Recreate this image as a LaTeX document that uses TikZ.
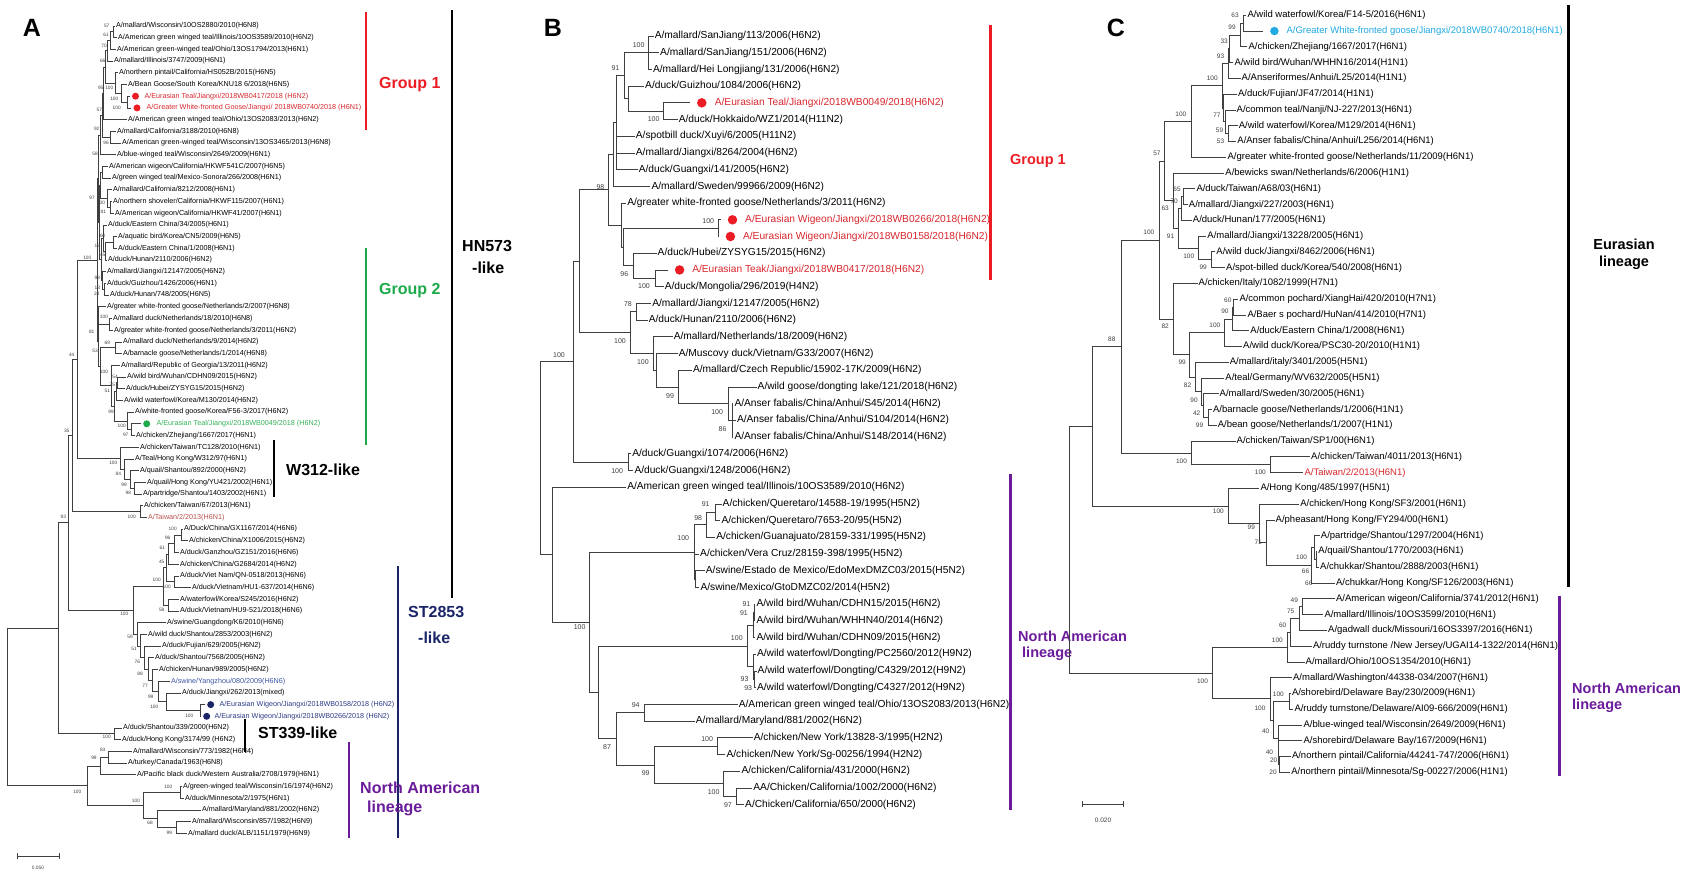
\documentclass[tikz,border=0pt]{standalone}
\usepackage{fontspec}
\setmainfont{Liberation Sans}
\usepackage{xcolor}
\usetikzlibrary{calc,positioning}
\definecolor{treegray}{HTML}{3F3F3F}
\definecolor{grpred}{HTML}{EC1C24}
\definecolor{leafred}{HTML}{D8262C}
\definecolor{twred}{HTML}{B8504A}
\definecolor{grpgreen}{HTML}{1DAA4A}
\definecolor{leafgreen}{HTML}{33B157}
\definecolor{navy}{HTML}{1B2466}
\definecolor{leafnavy}{HTML}{2B3A85}
\definecolor{swblue}{HTML}{3B56A3}
\definecolor{napurple}{HTML}{6A1B9A}
\definecolor{gwcyan}{HTML}{21A9E1}
% internal node: x position, placed half way between first and last child
\newcommand{\inode}[4]{%
  \coordinate (tmp) at ($(#3)!0.5!(#4)$);
  \coordinate (#1) at (#2,0 |- tmp);}
\begin{document}
\begin{tikzpicture}[x=1pt,y=-1pt]
\tikzset{
  leafA/.style={anchor=west,inner sep=0.8pt,font=\fontsize{7.2}{8}\selectfont},
  leafB/.style={anchor=west,inner sep=1pt,font=\fontsize{10.2}{11}\selectfont},
  leafC/.style={anchor=west,inner sep=1pt,font=\fontsize{9.5}{10}\selectfont},
  bsA/.style={inner sep=0pt,text=treegray,font=\fontsize{4.8}{5}\selectfont},
  bsB/.style={inner sep=0pt,text=treegray,font=\fontsize{7}{7}\selectfont},
  bsC/.style={inner sep=0pt,text=treegray,font=\fontsize{6.5}{7}\selectfont},
  dotA/.style={circle,inner sep=0pt,minimum size=7pt,outer sep=2.5pt},
  dotB/.style={circle,inner sep=0pt,minimum size=9.5pt,outer sep=7pt},
  dotC/.style={circle,inner sep=0pt,minimum size=8.5pt,outer sep=7pt},
  branch/.style={draw=treegray,line width=0.75pt},
  cladebar/.style={line width=2.6pt},
  cladetext/.style={anchor=west,inner sep=0pt,font=\bfseries\fontsize{16}{18}\selectfont},
  cladetextB/.style={anchor=west,inner sep=0pt,font=\bfseries\fontsize{14.5}{16}\selectfont},
  panel/.style={inner sep=0pt,font=\bfseries\fontsize{25}{26}\selectfont},
}
\useasboundingbox (0,0) rectangle (1687,873);

%% ---------------- panel A ----------------
\node[panel] (pA) at (32,28) {A};
\node[leafA] (a1) at (115,26) {A/mallard/Wisconsin/10OS2880/2010(H6N8)};
\node[leafA] (a2) at (117,37.7) {A/American green winged teal/Illinois/10OS3589/2010(H6N2)};
\node[leafA] (a3) at (116,49.4) {A/American green-winged teal/Ohio/13OS1794/2013(H6N1)};
\node[leafA] (a4) at (113,61.1) {A/mallard/Illinois/3747/2009(H6N1)};
\node[leafA] (a5) at (118,72.8) {A/northern pintail/California/HS052B/2015(H6N5)};
\node[leafA] (a6) at (127,84.5) {A/Bean Goose/South Korea/KNU18 6/2018(H6N5)};
\node[dotA,fill=grpred] (a7) at (135.5,96.2) {};
\node[leafA,text=leafred] (a7t) at (143.5,96.2) {A/Eurasian Teal/Jiangxi/2018WB0417/2018 (H6N2)};
\node[dotA,fill=grpred] (a8) at (137,107.9) {};
\node[leafA,text=leafred] (a8t) at (145.5,107.9) {A/Greater White-fronted Goose/Jiangxi/ 2018WB0740/2018 (H6N1)};
\node[leafA] (a9) at (127,119.6) {A/American green winged teal/Ohio/13OS2083/2013(H6N2)};
\node[leafA] (a10) at (116,131.3) {A/mallard/California/3188/2010(H6N8)};
\node[leafA] (a11) at (121,143) {A/American green-winged teal/Wisconsin/13OS3465/2013(H6N8)};
\node[leafA] (a12) at (116,154.7) {A/blue-winged teal/Wisconsin/2649/2009(H6N1)};
\node[leafA] (a13) at (108,166.4) {A/American wigeon/California/HKWF541C/2007(H6N5)};
\node[leafA] (a14) at (111,178.1) {A/green winged teal/Mexico-Sonora/266/2008(H6N1)};
\node[leafA] (a15) at (112,189.8) {A/mallard/California/8212/2008(H6N1)};
\node[leafA] (a16) at (112,201.5) {A/northern shoveler/California/HKWF115/2007(H6N1)};
\node[leafA] (a17) at (114,213.2) {A/American wigeon/California/HKWF41/2007(H6N1)};
\node[leafA] (a18) at (107,224.9) {A/duck/Eastern China/34/2005(H6N1)};
\node[leafA] (a19) at (117,236.6) {A/aquatic bird/Korea/CN5/2009(H6N5)};
\node[leafA] (a20) at (117,248.3) {A/duck/Eastern China/1/2008(H6N1)};
\node[leafA] (a21) at (107,260) {A/duck/Hunan/2110/2006(H6N2)};
\node[leafA] (a22) at (106,271.7) {A/mallard/Jiangxi/12147/2005(H6N2)};
\node[leafA] (a23) at (106,283.4) {A/duck/Guizhou/1426/2006(H6N1)};
\node[leafA] (a24) at (109,295.1) {A/duck/Hunan/748/2005(H6N5)};
\node[leafA] (a25) at (106,306.8) {A/greater white-fronted goose/Netherlands/2/2007(H6N8)};
\node[leafA] (a26) at (112,318.5) {A/mallard duck/Netherlands/18/2010(H6N8)};
\node[leafA] (a27) at (113,330.2) {A/greater white-fronted goose/Netherlands/3/2011(H6N2)};
\node[leafA] (a28) at (122,341.9) {A/mallard duck/Netherlands/9/2014(H6N2)};
\node[leafA] (a29) at (122,353.6) {A/barnacle goose/Netherlands/1/2014(H6N8)};
\node[leafA] (a30) at (120,365.3) {A/mallard/Republic of Georgia/13/2011(H6N2)};
\node[leafA] (a31) at (126,377) {A/wild bird/Wuhan/CDHN09/2015(H6N2)};
\node[leafA] (a32) at (125,388.7) {A/duck/Hubei/ZYSYG15/2015(H6N2)};
\node[leafA] (a33) at (123,400.4) {A/wild waterfowl/Korea/M130/2014(H6N2)};
\node[leafA] (a34) at (134,412.1) {A/white-fronted goose/Korea/F56-3/2017(H6N2)};
\node[dotA,fill=grpgreen] (a35) at (146.7,423.8) {};
\node[leafA,text=leafgreen] (a35t) at (155.5,423.8) {A/Eurasian Teal/Jiangxi/2018WB0049/2018 (H6N2)};
\node[leafA] (a36) at (135,435.5) {A/chicken/Zhejiang/1667/2017(H6N1)};
\node[leafA] (a37) at (139,447.2) {A/chicken/Taiwan/TC128/2010(H6N1)};
\node[leafA] (a38) at (134,458.9) {A/Teal/Hong Kong/W312/97(H6N1)};
\node[leafA] (a39) at (139,470.6) {A/quail/Shantou/892/2000(H6N2)};
\node[leafA] (a40) at (146,482.3) {A/quail/Hong Kong/YU421/2002(H6N1)};
\node[leafA] (a41) at (142,494) {A/partridge/Shantou/1403/2002(H6N1)};
\node[leafA] (a42) at (143,505.7) {A/chicken/Taiwan/67/2013(H6N1)};
\node[leafA,text=twred] (a43) at (147,517.4) {A/Taiwan/2/2013(H6N1)};
\node[leafA] (a44) at (183,529.1) {A/Duck/China/GX1167/2014(H6N6)};
\node[leafA] (a45) at (188,540.8) {A/chicken/China/X1006/2015(H6N2)};
\node[leafA] (a46) at (179,552.5) {A/duck/Ganzhou/GZ151/2016(H6N6)};
\node[leafA] (a47) at (179,564.2) {A/chicken/China/G2684/2014(H6N2)};
\node[leafA] (a48) at (179,575.9) {A/duck/Viet Nam/QN-0518/2013(H6N6)};
\node[leafA] (a49) at (191,587.6) {A/duck/Vietnam/HU1-637/2014(H6N6)};
\node[leafA] (a50) at (179,599.3) {A/waterfowl/Korea/S245/2016(H6N2)};
\node[leafA] (a51) at (179,611) {A/duck/Vietnam/HU9-521/2018(H6N6)};
\node[leafA] (a52) at (166,622.7) {A/swine/Guangdong/K6/2010(H6N6)};
\node[leafA] (a53) at (147,634.4) {A/wild duck/Shantou/2853/2003(H6N2)};
\node[leafA] (a54) at (161,646.1) {A/duck/Fujian/629/2005(H6N2)};
\node[leafA] (a55) at (154,657.8) {A/duck/Shantou/7568/2005(H6N2)};
\node[leafA] (a56) at (158,669.5) {A/chicken/Hunan/989/2005(H6N2)};
\node[leafA,text=swblue] (a57) at (170,681.2) {A/swine/Yangzhou/080/2009(H6N6)};
\node[leafA] (a58) at (181,692.9) {A/duck/Jiangxi/262/2013(mixed)};
\node[dotA,fill=navy] (a59) at (210.7,704.6) {};
\node[leafA,text=leafnavy] (a59t) at (218.5,704.6) {A/Eurasian Wigeon/Jiangxi/2018WB0158/2018 (H6N2)};
\node[dotA,fill=navy] (a60) at (206.7,716.3) {};
\node[leafA,text=leafnavy] (a60t) at (213.5,716.3) {A/Eurasian Wigeon/Jiangxi/2018WB0266/2018 (H6N2)};
\node[leafA] (a61) at (122,728) {A/duck/Shantou/339/2000(H6N2)};
\node[leafA] (a62) at (121,739.7) {A/duck/Hong Kong/3174/99 (H6N2)};
\node[leafA] (a63) at (132,751.4) {A/mallard/Wisconsin/773/1982(H6N4)};
\node[leafA] (a64) at (127,763.1) {A/turkey/Canada/1963(H6N8)};
\node[leafA] (a65) at (136,774.8) {A/Pacific black duck/Western Australia/2708/1979(H6N1)};
\node[leafA] (a66) at (182,786.5) {A/green-winged teal/Wisconsin/16/1974(H6N2)};
\node[leafA] (a67) at (184,798.2) {A/duck/Minnesota/2/1975(H6N1)};
\node[leafA] (a68) at (201,809.9) {A/mallard/Maryland/881/2002(H6N2)};
\node[leafA] (a69) at (191,821.6) {A/mallard/Wisconsin/857/1982(H6N9)};
\node[leafA] (a70) at (187,833.3) {A/mallard duck/ALB/1151/1979(H6N9)};

\inode{aN1}{113}{a1}{a2}
\inode{aN2}{110}{aN1}{a3}
\inode{aN3}{107}{aN2}{a4}
\inode{aN4}{127}{a7}{a8}
\inode{aN5}{121}{a6}{aN4}
\inode{aN6}{115}{a5}{aN5}
\inode{aN7}{105}{aN3}{aN6}
\inode{aN8}{103}{aN7}{a9}
\inode{aN9}{110}{a10}{a11}
\inode{aN10}{102}{aN8}{aN9}
\inode{aN11}{100}{aN10}{a12}
\inode{aN12}{102}{a13}{a14}
\inode{aN13}{110}{a16}{a17}
\inode{aN14}{107}{a15}{aN13}
\inode{aN15}{100.5}{aN12}{aN14}
\inode{aN16}{113}{a19}{a20}
\inode{aN17}{105}{aN16}{a21}
\inode{aN18}{103}{a18}{aN17}
\inode{aN19}{104}{a23}{a24}
\inode{aN20}{102}{a22}{aN19}
\inode{aN21}{101}{aN18}{aN20}
\inode{aN22}{99.5}{aN15}{aN21}
\inode{aN23}{98.5}{aN11}{aN22}
\inode{aN24}{109}{a26}{a27}
\inode{aN25}{98.5}{a25}{aN24}
\inode{aN26}{115}{a28}{a29}
\inode{aN30}{117}{a31}{a32}
\inode{aN31}{116}{aN30}{a33}
\inode{aN33}{131.5}{a35}{a36}
\inode{aN34}{127}{a34}{aN33}
\inode{aN35}{114}{aN31}{aN34}
\inode{aN36}{111}{a30}{aN35}
\inode{aN37}{100}{aN26}{aN36}
\inode{aN38}{98}{aN25}{aN37}
\inode{aN39}{97}{aN23}{aN38}
\inode{aN40}{134}{a40}{a41}
\inode{aN41}{130}{a39}{aN40}
\inode{aN42}{124}{a38}{aN41}
\inode{aN43}{120}{a37}{aN42}
\inode{aN44}{77}{aN39}{aN43}
\inode{aN45}{140}{a42}{a43}
\inode{aN46}{72}{aN44}{aN45}
\inode{aN47}{181}{a44}{a45}
\inode{aN48}{174}{aN47}{a46}
\inode{aN49}{168}{aN48}{a47}
\inode{aN51}{174}{a48}{a49}
\inode{aN50}{166}{aN49}{aN51}
\inode{aN52}{168}{a50}{a51}
\inode{aN53}{163}{aN50}{aN52}
\inode{aC1}{200}{a59}{a60}
\inode{aC2}{166}{a58}{aC1}
\inode{aC3}{158}{a57}{aC2}
\inode{aC4}{152}{a56}{aC3}
\inode{aC5}{148}{a55}{aC4}
\inode{aC6}{144}{a54}{aC5}
\inode{aC7}{140}{a53}{aC6}
\inode{aC8}{137}{a52}{aC7}
\inode{aN54}{133}{aN53}{aC8}
\inode{aN55}{68}{aN46}{aN54}
\inode{aN56}{114}{a61}{a62}
\inode{aN57}{58}{aN55}{aN56}
\inode{aN58}{108}{a63}{a64}
\inode{aN59}{100}{aN58}{a65}
\inode{aN60}{180}{a66}{a67}
\inode{aN61}{176}{a69}{a70}
\inode{aN62}{157}{a68}{aN61}
\inode{aN63}{143}{aN60}{aN62}
\inode{aN64}{87}{aN59}{aN63}
\inode{aR}{7}{aN57}{aN64}

\foreach \p/\c in {aN1/a1,aN1/a2,aN2/aN1,aN2/a3,aN3/aN2,aN3/a4,aN4/a7,aN4/a8,aN5/a6,aN5/aN4,
  aN6/a5,aN6/aN5,aN7/aN3,aN7/aN6,aN8/aN7,aN8/a9,aN9/a10,aN9/a11,aN10/aN8,aN10/aN9,aN11/aN10,
  aN11/a12,aN12/a13,aN12/a14,aN13/a16,aN13/a17,aN14/a15,aN14/aN13,aN15/aN12,aN15/aN14,
  aN16/a19,aN16/a20,aN17/aN16,aN17/a21,aN18/a18,aN18/aN17,aN19/a23,aN19/a24,aN20/a22,
  aN20/aN19,aN21/aN18,aN21/aN20,aN22/aN15,aN22/aN21,aN23/aN11,aN23/aN22,aN24/a26,aN24/a27,
  aN25/a25,aN25/aN24,aN26/a28,aN26/a29,aN30/a31,aN30/a32,aN31/aN30,aN31/a33,aN33/a35,
  aN33/a36,aN34/a34,aN34/aN33,aN35/aN31,aN35/aN34,aN36/a30,aN36/aN35,aN37/aN26,aN37/aN36,
  aN38/aN25,aN38/aN37,aN39/aN23,aN39/aN38,aN40/a40,aN40/a41,aN41/a39,aN41/aN40,aN42/a38,
  aN42/aN41,aN43/a37,aN43/aN42,aN44/aN39,aN44/aN43,aN45/a42,aN45/a43,aN46/aN44,aN46/aN45,
  aN47/a44,aN47/a45,aN48/aN47,aN48/a46,aN49/aN48,aN49/a47,aN51/a48,aN51/a49,aN50/aN49,
  aN50/aN51,aN52/a50,aN52/a51,aN53/aN50,aN53/aN52,aC1/a59,aC1/a60,aC2/a58,aC2/aC1,aC3/a57,
  aC3/aC2,aC4/a56,aC4/aC3,aC5/a55,aC5/aC4,aC6/a54,aC6/aC5,aC7/a53,aC7/aC6,aC8/a52,aC8/aC7,
  aN54/aN53,aN54/aC8,aN55/aN46,aN55/aN54,aN56/a61,aN56/a62,aN57/aN55,aN57/aN56,aN58/a63,
  aN58/a64,aN59/aN58,aN59/a65,aN60/a66,aN60/a67,aN61/a69,aN61/a70,aN62/a68,aN62/aN61,
  aN63/aN60,aN63/aN62,aN64/aN59,aN64/aN63,aR/aN57,aR/aN64}
  \draw[branch] (\p) |- (\c);

% bootstrap values
\foreach \x/\y/\t [count=\k] in {106.7/26/57,106/34.7/61,104/45.7/70,102.7/61/66,100.7/88.3/95,
  109.3/88.3/100,114.3/99/100,116.7/107.7/100,99.3/110/57,96.7/129.3/92,106/142.7/96,95/154/58,
  92/198.3/97,101/203.3/100,103.3/212.3/81,102.7/236/60,97.3/245.7/18,102.7/254.7/45,
  87.3/258.3/100,97.3/278.3/98,97.3/287.7/13,96.7/294/24,104/317.3/100,91.7/331.7/81,
  107.3/342.7/69,95/350.7/53,71.7/355/44,104/371.7/100,115/376.7/54,112.3/385/75,107.3/390.7/51,
  111/411.7/99,121.7/426/100,125.7/435/97,66.7/430.7/35,113.3/463.3/100,118.3/474.3/84,
  124/485/99,128.3/493.3/98,131.7/516.7/100,63.3/516.7/93,172.7/529/100,167.7/538.3/96,
  162.3/548.3/61,161.7/562.3/45,156.7/580/100,166.7/586.7/100,161.7/610/58,124.3/614.3/100,
  130/637.3/59,134/649.3/51,137.3/662/76,140/674/88,145/685.7/77,150.7/697.3/99,154.3/707.3/100,
  189.3/716/100,106.7/737.3/100,102.7/750/83,94/758.3/99,77.3/791.7/100,168.3/786.7/100,
  136/801/100,150/823.3/68,169.3/833.3/99}
  \node[bsA] (bsa\k) at (\x,\y) {\t};

% clades of panel A
\draw[cladebar,grpred] (366,12) -- (366,130);
\node[cladetext,text=grpred] (g1A) at (379,85) {Group 1};
\draw[cladebar,black] (452,10) -- (452,598);
\node[cladetext] (hn573) at (462,246) {HN573};
\node[cladetext] (hnlike) at (472,268) {-like};
\draw[cladebar,grpgreen] (366,248) -- (366,445);
\node[cladetext,text=grpgreen] (g2A) at (379,291) {Group 2};
\draw[cladebar,black] (274,440) -- (274,497);
\node[cladetext] (w312) at (286,470) {W312-like};
\draw[cladebar,navy] (398,566) -- (398,838);
\node[cladetext,text=navy] (st2853) at (408,612) {ST2853};
\node[cladetext,text=navy] (stlike) at (418,638) {-like};
\draw[cladebar,black] (245,719) -- (245,752);
\node[cladetext] (st339) at (258,733) {ST339-like};
\draw[cladebar,napurple] (349,742) -- (349,838);
\node[cladetext,text=napurple] (naA) at (360,788) {North American};
\node[cladetext,text=napurple] (naA2) at (367,808) {lineage};
% scale
\draw[treegray,line width=0.6pt] (17,853) -- (17,859) (17,856) -- (59,856) (59,853) -- (59,859);
\node[bsA] (scA) at (38,868) {0.050};

%% ---------------- panel B ----------------
\node[panel] (pB) at (553,28) {B};
\node[leafB] (b1) at (653.6,36) {A/mallard/SanJiang/113/2006(H6N2)};
\node[leafB] (b2) at (659,52.71) {A/mallard/SanJiang/151/2006(H6N2)};
\node[leafB] (b3) at (651.9,69.42) {A/mallard/Hei Longjiang/131/2006(H6N2)};
\node[leafB] (b4) at (644,86.13) {A/duck/Guizhou/1084/2006(H6N2)};
\node[dotB,fill=grpred] (b5) at (701.8,102.84) {};
\node[leafB,text=leafred] (b5t) at (713.6,102.84) {A/Eurasian Teal/Jiangxi/2018WB0049/2018(H6N2)};
\node[leafB] (b6) at (677.6,119.55) {A/duck/Hokkaido/WZ1/2014(H11N2)};
\node[leafB] (b7) at (634.7,136.26) {A/spotbill duck/Xuyi/6/2005(H11N2)};
\node[leafB] (b8) at (634.7,152.97) {A/mallard/Jiangxi/8264/2004(H6N2)};
\node[leafB] (b9) at (637.6,169.68) {A/duck/Guangxi/141/2005(H6N2)};
\node[leafB] (b10) at (650.4,186.39) {A/mallard/Sweden/99966/2009(H6N2)};
\node[leafB] (b11) at (626.1,203.1) {A/greater white-fronted goose/Netherlands/3/2011(H6N2)};
\node[dotB,fill=grpred] (b12) at (732.5,219.81) {};
\node[leafB,text=leafred] (b12t) at (744,219.81) {A/Eurasian Wigeon/Jiangxi/2018WB0266/2018(H6N2)};
\node[dotB,fill=grpred] (b13) at (730.4,236.52) {};
\node[leafB,text=leafred] (b13t) at (741.9,236.52) {A/Eurasian Wigeon/Jiangxi/2018WB0158/2018(H6N2)};
\node[leafB] (b14) at (656.5,253.23) {A/duck/Hubei/ZYSYG15/2015(H6N2)};
\node[dotB,fill=grpred] (b15) at (679.6,269.94) {};
\node[leafB,text=leafred] (b15t) at (691.1,269.94) {A/Eurasian Teak/Jiangxi/2018WB0417/2018(H6N2)};
\node[leafB] (b16) at (663.6,286.65) {A/duck/Mongolia/296/2019(H4N2)};
\node[leafB] (b17) at (651.1,303.36) {A/mallard/Jiangxi/12147/2005(H6N2)};
\node[leafB] (b18) at (647.6,320.07) {A/duck/Hunan/2110/2006(H6N2)};
\node[leafB] (b19) at (672.6,336.78) {A/mallard/Netherlands/18/2009(H6N2)};
\node[leafB] (b20) at (677.6,353.49) {A/Muscovy duck/Vietnam/G33/2007(H6N2)};
\node[leafB] (b21) at (691.9,370.2) {A/mallard/Czech Republic/15902-17K/2009(H6N2)};
\node[leafB] (b22) at (756.5,386.91) {A/wild goose/dongting lake/121/2018(H6N2)};
\node[leafB] (b23) at (733.3,403.62) {A/Anser fabalis/China/Anhui/S45/2014(H6N2)};
\node[leafB] (b24) at (735.8,420.33) {A/Anser fabalis/China/Anhui/S104/2014(H6N2)};
\node[leafB] (b25) at (733.3,437.04) {A/Anser fabalis/China/Anhui/S148/2014(H6N2)};
\node[leafB] (b26) at (631.1,453.75) {A/duck/Guangxi/1074/2006(H6N2)};
\node[leafB] (b27) at (633.3,470.46) {A/duck/Guangxi/1248/2006(H6N2)};
\node[leafB] (b28) at (626.1,487.17) {A/American green winged teal/Illinois/10OS3589/2010(H6N2)};
\node[leafB] (b29) at (721.5,503.88) {A/chicken/Queretaro/14588-19/1995(H5N2)};
\node[leafB] (b30) at (720.4,520.59) {A/chicken/Queretaro/7653-20/95(H5N2)};
\node[leafB] (b31) at (715.1,537.3) {A/chicken/Guanajuato/28159-331/1995(H5N2)};
\node[leafB] (b32) at (699,554.01) {A/chicken/Vera Cruz/28159-398/1995(H5N2)};
\node[leafB] (b33) at (704.7,570.72) {A/swine/Estado de Mexico/EdoMexDMZC03/2015(H5N2)};
\node[leafB] (b34) at (699.4,587.43) {A/swine/Mexico/GtoDMZC02/2014(H5N2)};
\node[leafB] (b35) at (755.4,604.14) {A/wild bird/Wuhan/CDHN15/2015(H6N2)};
\node[leafB] (b36) at (755.4,620.85) {A/wild bird/Wuhan/WHHN40/2014(H6N2)};
\node[leafB] (b37) at (755.4,637.56) {A/wild bird/Wuhan/CDHN09/2015(H6N2)};
\node[leafB] (b38) at (755.8,654.27) {A/wild waterfowl/Dongting/PC2560/2012(H9N2)};
\node[leafB] (b39) at (756.5,670.98) {A/wild waterfowl/Dongting/C4329/2012(H9N2)};
\node[leafB] (b40) at (755.8,687.69) {A/wild waterfowl/Dongting/C4327/2012(H9N2)};
\node[leafB] (b41) at (737.6,704.4) {A/American green winged teal/Ohio/13OS2083/2013(H6N2)};
\node[leafB] (b42) at (694.7,721.11) {A/mallard/Maryland/881/2002(H6N2)};
\node[leafB] (b43) at (752.6,737.82) {A/chicken/New York/13828-3/1995(H2N2)};
\node[leafB] (b44) at (725.4,754.53) {A/chicken/New York/Sg-00256/1994(H2N2)};
\node[leafB] (b45) at (740.4,771.24) {A/chicken/California/431/2000(H6N2)};
\node[leafB] (b46) at (752.2,787.95) {AA/Chicken/California/1002/2000(H6N2)};
\node[leafB] (b47) at (744,804.66) {A/Chicken/California/650/2000(H6N2)};

\inode{bN1}{648.6}{b1}{b3}
\inode{bN4}{663.6}{b5}{b6}
\inode{bN3}{627.9}{b4}{bN4}
\inode{bN2}{624.3}{bN1}{bN3}
\inode{bN5}{616.4}{bN2}{b9}
\inode{bN6}{612.9}{bN5}{b10}
\inode{bN9}{718}{b12}{b13}
\inode{bN11}{655.4}{b15}{b16}
\inode{bN10}{633.2}{b14}{bN11}
\inode{bN12}{623.6}{bN9}{bN10}
\inode{bN8}{621.4}{b11}{bN12}
\inode{bN7}{608.2}{bN6}{bN8}
\inode{bN13}{636.8}{b17}{b18}
\inode{bN18}{732.1}{b23}{b25}
\inode{bN17}{727.9}{b22}{bN18}
\inode{bN16}{678.6}{b21}{bN17}
\inode{bN15}{656.4}{b20}{bN16}
\inode{bN14}{652.9}{b19}{bN15}
\inode{bN19}{630.7}{bN13}{bN14}
\inode{bN20}{579.6}{bN7}{bN19}
\inode{bN21}{627.9}{b26}{b27}
\inode{bN22}{573.2}{bN20}{bN21}
\inode{bN24}{715.4}{b29}{b30}
\inode{bN25}{706.4}{bN24}{b31}
\inode{bN27}{695.7}{b33}{b34}
\inode{bN26}{693.9}{bN25}{bN27}
\inode{bN28a}{753.9}{b35}{b36}
\inode{bN28}{752.9}{bN28a}{b37}
\inode{bN29a}{753.9}{b39}{b40}
\inode{bN29}{752.9}{b38}{bN29a}
\inode{bN30}{747.5}{bN28}{bN29}
\inode{bN31}{644.6}{b41}{b42}
\inode{bN32}{717.1}{b43}{b44}
\inode{bN33}{736.8}{b46}{b47}
\inode{bN34}{723.6}{b45}{bN33}
\inode{bN35}{653.9}{bN32}{bN34}
\inode{bN36}{616.1}{bN31}{bN35}
\inode{bN37}{598.2}{bN30}{bN36}
\inode{bNA}{589.6}{bN26}{bN37}
\inode{bN23}{552}{b28}{bNA}
\inode{bR}{540}{bN22}{bN23}

\foreach \p/\c in {bN1/b1,bN1/b2,bN1/b3,bN4/b5,bN4/b6,bN3/b4,bN3/bN4,bN2/bN1,bN2/bN3,bN5/bN2,
  bN5/b7,bN5/b8,bN5/b9,bN6/bN5,bN6/b10,bN9/b12,bN9/b13,bN11/b15,bN11/b16,bN10/b14,bN10/bN11,
  bN12/bN9,bN12/bN10,bN8/b11,bN8/bN12,bN7/bN6,bN7/bN8,bN13/b17,bN13/b18,bN18/b23,bN18/b24,
  bN18/b25,bN17/b22,bN17/bN18,bN16/b21,bN16/bN17,bN15/b20,bN15/bN16,bN14/b19,bN14/bN15,
  bN19/bN13,bN19/bN14,bN20/bN7,bN20/bN19,bN21/b26,bN21/b27,bN22/bN20,bN22/bN21,bN24/b29,
  bN24/b30,bN25/bN24,bN25/b31,bN27/b33,bN27/b34,bN26/bN25,bN26/b32,bN26/bN27,bN28a/b35,
  bN28a/b36,bN28/bN28a,bN28/b37,bN29a/b39,bN29a/b40,bN29/b38,bN29/bN29a,bN30/bN28,bN30/bN29,
  bN31/b41,bN31/b42,bN32/b43,bN32/b44,bN33/b46,bN33/b47,bN34/b45,bN34/bN33,bN35/bN32,
  bN35/bN34,bN36/bN31,bN36/bN35,bN37/bN30,bN37/bN36,bNA/bN26,bNA/bN37,bN23/b28,bN23/bNA,
  bR/bN22,bR/bN23}
  \draw[branch] (\p) |- (\c);

\foreach \x/\y/\t [count=\k] in {638.6/45/100,615.4/68.3/91,653.6/119.3/100,600.4/186.7/98,
  708.2/220.7/100,624.3/274/96,644/286/100,627.9/304/78,620/341/100,642.9/362.3/100,
  670/395.7/99,717.1/412.3/100,722.5/429/86,617.1/470.7/100,559/355/100,705.7/504.3/91,
  698.2/517.7/98,683.2/537.7/100,746.4/604.3/91,743.9/613.3/91,736.8/638.3/100,744.6/679.3/93,
  748.2/687.7/93,579.6/627.3/100,635.7/705/94,607.1/747.3/87,707.1/739/100,645.7/773.3/99,
  713.6/792.3/100,727.9/805/97}
  \node[bsB] (bsb\k) at (\x,\y) {\t};

\draw[cladebar,grpred,line width=3pt] (990.4,25) -- (990.4,280);
\node[cladetextB,text=grpred] (g1B) at (1010,161) {Group 1};
\draw[cladebar,napurple,line width=3pt] (1010,474) -- (1010,810);
\node[cladetextB,text=napurple] (naB) at (1018,636) {North American};
\node[cladetextB,text=napurple] (naB2) at (1022,654) {lineage};

%% ---------------- panel C ----------------
\node[panel] (pC) at (1116,28) {C};
\node[leafC] (c1) at (1246.3,15.3) {A/wild waterfowl/Korea/F14-5/2016(H6N1)};
\node[dotC,fill=gwcyan] (c2) at (1274.4,31.07) {};
\node[leafC,text=gwcyan] (c2t) at (1285.4,31.07) {A/Greater White-fronted goose/Jiangxi/2018WB0740/2018(H6N1)};
\node[leafC] (c3) at (1247.4,46.84) {A/chicken/Zhejiang/1667/2017(H6N1)};
\node[leafC] (c4) at (1233.3,62.61) {A/wild bird/Wuhan/WHHN16/2014(H1N1)};
\node[leafC] (c5) at (1240.5,78.38) {A/Anseriformes/Anhui/L25/2014(H1N1)};
\node[leafC] (c6) at (1236.9,94.15) {A/duck/Fujian/JF47/2014(H1N1)};
\node[leafC] (c7) at (1235.5,109.92) {A/common teal/Nanji/NJ-227/2013(H6N1)};
\node[leafC] (c8) at (1237.6,125.69) {A/wild waterfowl/Korea/M129/2014(H6N1)};
\node[leafC] (c9) at (1236.2,141.46) {A/Anser fabalis/China/Anhui/L256/2014(H6N1)};
\node[leafC] (c10) at (1226.4,157.23) {A/greater white-fronted goose/Netherlands/11/2009(H6N1)};
\node[leafC] (c11) at (1224.2,173) {A/bewicks swan/Netherlands/6/2006(H1N1)};
\node[leafC] (c12) at (1195.3,188.77) {A/duck/Taiwan/A68/03(H6N1)};
\node[leafC] (c13) at (1187.7,204.54) {A/mallard/Jiangxi/227/2003(H6N1)};
\node[leafC] (c14) at (1191.7,220.31) {A/duck/Hunan/177/2005(H6N1)};
\node[leafC] (c15) at (1206.2,236.08) {A/mallard/Jiangxi/13228/2005(H6N1)};
\node[leafC] (c16) at (1215.2,251.85) {A/wild duck/Jiangxi/8462/2006(H6N1)};
\node[leafC] (c17) at (1225,267.62) {A/spot-billed duck/Korea/540/2008(H6N1)};
\node[leafC] (c18) at (1197.5,283.39) {A/chicken/Italy/1082/1999(H7N1)};
\node[leafC] (c19) at (1238.3,299.16) {A/common pochard/XiangHai/420/2010(H7N1)};
\node[leafC] (c20) at (1246.3,314.93) {A/Baer s pochard/HuNan/414/2010(H7N1)};
\node[leafC] (c21) at (1249.2,330.7) {A/duck/Eastern China/1/2008(H6N1)};
\node[leafC] (c22) at (1242,346.47) {A/wild duck/Korea/PSC30-20/2010(H1N1)};
\node[leafC] (c23) at (1228.6,362.24) {A/mallard/italy/3401/2005(H5N1)};
\node[leafC] (c24) at (1224.2,378.01) {A/teal/Germany/WV632/2005(H5N1)};
\node[leafC] (c25) at (1218.5,393.78) {A/mallard/Sweden/30/2005(H6N1)};
\node[leafC] (c26) at (1211.9,409.55) {A/barnacle goose/Netherlands/1/2006(H1N1)};
\node[leafC] (c27) at (1216.6,425.32) {A/bean goose/Netherlands/1/2007(H1N1)};
\node[leafC] (c28) at (1235.5,441.09) {A/chicken/Taiwan/SP1/00(H6N1)};
\node[leafC] (c29) at (1310,456.86) {A/chicken/Taiwan/4011/2013(H6N1)};
\node[leafC,text=leafred] (c30) at (1303.4,472.63) {A/Taiwan/2/2013(H6N1)};
\node[leafC] (c31) at (1259.3,488.4) {A/Hong Kong/485/1997(H5N1)};
\node[leafC] (c32) at (1299.1,504.17) {A/chicken/Hong Kong/SF3/2001(H6N1)};
\node[leafC] (c33) at (1274.5,519.94) {A/pheasant/Hong Kong/FY294/00(H6N1)};
\node[leafC] (c34) at (1319.7,535.71) {A/partridge/Shantou/1297/2004(H6N1)};
\node[leafC] (c35) at (1317.2,551.48) {A/quail/Shantou/1770/2003(H6N1)};
\node[leafC] (c36) at (1319,567.25) {A/chukkar/Shantou/2888/2003(H6N1)};
\node[leafC] (c37) at (1334.9,583.02) {A/chukkar/Hong Kong/SF126/2003(H6N1)};
\node[leafC] (c38) at (1334.9,598.79) {A/American wigeon/California/3741/2012(H6N1)};
\node[leafC] (c39) at (1323.3,614.56) {A/mallard/Illinois/10OS3599/2010(H6N1)};
\node[leafC] (c40) at (1327,630.33) {A/gadwall duck/Missouri/16OS3397/2016(H6N1)};
\node[leafC] (c41) at (1311.8,646.1) {A/ruddy turnstone /New Jersey/UGAI14-1322/2014(H6N1)};
\node[leafC] (c42) at (1304.5,661.87) {A/mallard/Ohio/10OS1354/2010(H6N1)};
\node[leafC] (c43) at (1291.9,677.64) {A/mallard/Washington/44338-034/2007(H6N1)};
\node[leafC] (c44) at (1290.8,693.41) {A/shorebird/Delaware Bay/230/2009(H6N1)};
\node[leafC] (c45) at (1293.3,709.18) {A/ruddy turnstone/Delaware/AI09-666/2009(H6N1)};
\node[leafC] (c46) at (1302.4,724.95) {A/blue-winged teal/Wisconsin/2649/2009(H6N1)};
\node[leafC] (c47) at (1302.4,740.72) {A/shorebird/Delaware Bay/167/2009(H6N1)};
\node[leafC] (c48) at (1290.8,756.49) {A/northern pintail/California/44241-747/2006(H6N1)};
\node[leafC] (c49) at (1290.1,772.26) {A/northern pintail/Minnesota/Sg-00227/2006(H1N1)};

\inode{cN1}{1243}{c1}{c2}
\inode{cN2}{1240}{cN1}{c3}
\inode{cN3}{1229.2}{cN2}{c4}
\inode{cN4}{1228.5}{cN3}{c5}
\inode{cN5}{1228.5}{c8}{c9}
\inode{cN6}{1225.6}{c7}{cN5}
\inode{cN7}{1223.8}{c6}{cN6}
\inode{cN8}{1222}{cN4}{cN7}
\inode{cN9}{1191.2}{cN8}{c10}
\inode{cN11}{1183.3}{c12}{c13}
\inode{cN12}{1181.5}{cN11}{c14}
\inode{cN13}{1211.1}{c16}{c17}
\inode{cN14}{1198.8}{c15}{cN13}
\inode{cN15}{1178.6}{cN12}{cN14}
\inode{cN16}{1173.5}{c11}{cN15}
\inode{cN17}{1164.8}{cN9}{cN16}
\inode{cN18}{1233.2}{c19}{c20}
\inode{cN19}{1232.1}{cN18}{c21}
\inode{cN20}{1224.2}{cN19}{c22}
\inode{cN22}{1208.6}{c26}{c27}
\inode{cN23}{1203.2}{c25}{cN22}
\inode{cN24}{1201.7}{c24}{cN23}
\inode{cN25}{1194.9}{c23}{cN24}
\inode{cN26}{1189.8}{cN20}{cN25}
\inode{cN27}{1173.5}{c18}{cN26}
\inode{cN28}{1159.1}{cN17}{cN27}
\inode{cN29}{1270.1}{c29}{c30}
\inode{cN30}{1191.6}{c28}{cN29}
\inode{cN31}{1121}{cN28}{cN30}
\inode{cN36}{1316}{c35}{c36}
\inode{cN36b}{1314.6}{c34}{cN36}
\inode{cN35}{1311}{cN36b}{c37}
\inode{cN34}{1266.5}{c33}{cN35}
\inode{cN33}{1259.2}{c32}{cN34}
\inode{cN32}{1228.5}{c31}{cN33}
\inode{cE}{1092}{cN31}{cN32}
\inode{cN40}{1302.6}{c38}{c39}
\inode{cN41}{1299}{cN40}{c40}
\inode{cN42}{1290.7}{cN41}{c41}
\inode{cN43}{1287.1}{cN42}{c42}
\inode{cN44}{1288.9}{c44}{c45}
\inode{cN46}{1279.1}{c48}{c49}
\inode{cN47}{1278.4}{c47}{cN46}
\inode{cN48}{1278}{c46}{cN47}
\inode{cN49}{1273.7}{cN44}{cN48}
\inode{cN50}{1270.1}{c43}{cN49}
\inode{cNA}{1212.2}{cN43}{cN50}
\inode{cR}{1069}{cE}{cNA}

\foreach \p/\c in {cN1/c1,cN1/c2,cN2/cN1,cN2/c3,cN3/cN2,cN3/c4,cN4/cN3,cN4/c5,cN5/c8,cN5/c9,
  cN6/c7,cN6/cN5,cN7/c6,cN7/cN6,cN8/cN4,cN8/cN7,cN9/cN8,cN9/c10,cN11/c12,cN11/c13,cN12/cN11,
  cN12/c14,cN13/c16,cN13/c17,cN14/c15,cN14/cN13,cN15/cN12,cN15/cN14,cN16/c11,cN16/cN15,
  cN17/cN9,cN17/cN16,cN18/c19,cN18/c20,cN19/cN18,cN19/c21,cN20/cN19,cN20/c22,cN22/c26,
  cN22/c27,cN23/c25,cN23/cN22,cN24/c24,cN24/cN23,cN25/c23,cN25/cN24,cN26/cN20,cN26/cN25,
  cN27/c18,cN27/cN26,cN28/cN17,cN28/cN27,cN29/c29,cN29/c30,cN30/c28,cN30/cN29,cN31/cN28,
  cN31/cN30,cN36/c35,cN36/c36,cN36b/c34,cN36b/cN36,cN35/cN36b,cN35/c37,cN34/c33,cN34/cN35,
  cN33/c32,cN33/cN34,cN32/c31,cN32/cN33,cE/cN31,cE/cN32,cN40/c38,cN40/c39,cN41/cN40,
  cN41/c40,cN42/cN41,cN42/c41,cN43/cN42,cN43/c42,cN44/c44,cN44/c45,cN46/c48,cN46/c49,
  cN47/c47,cN47/cN46,cN48/c46,cN48/cN47,cN49/cN44,cN49/cN48,cN50/c43,cN50/cN49,cNA/cN43,
  cNA/cN50,cR/cE,cR/cNA}
  \draw[branch] (\p) |- (\c);

\foreach \x/\y/\t [count=\k] in {1235/15.7/63,1232.1/27.7/99,1224.2/41.7/33,1220.5/56/93,
  1212.2/78.3/100,1216.9/115.7/77,1219.5/130/59,1220.5/141.7/53,1180.8/114/100,1156.9/153.3/57,
  1177.1/189/65,1174.2/201.7/70,1165.2/208.3/63,1170.6/236/91,1188.7/256/100,1203.2/267.7/99,
  1148.9/232.3/100,1227.8/300/60,1224.9/311.7/90,1214.8/325.7/100,1165.2/326.7/82,
  1182.2/362.3/99,1187.6/385/82,1194.1/400/90,1196.7/413.3/42,1199.6/425.7/99,1181.5/461/100,
  1260.3/472.7/100,1218.4/511.7/100,1251.3/527.3/99,1258.2/542.3/71,1301.6/557.3/100,
  1305.5/571.7/66,1308.8/583.3/66,1294.3/600/49,1290.7/611.7/75,1282.7/625.7/60,1277.3/640/100,
  1202.5/681.7/100,1278.4/694.3/100,1260/708.3/100,1265.7/731.7/40,1269.4/752.7/40,
  1273.7/760.7/20,1273/772.7/20,1111.8/339/88}
  \node[bsC] (bsc\k) at (\x,\y) {\t};

\draw[cladebar,black,line width=3pt] (1568.5,5) -- (1568.5,587);
\node[font=\bfseries\fontsize{14.5}{17}\selectfont,align=center,inner sep=0pt] (euC) at (1624,254) {Eurasian\\lineage};
\draw[cladebar,napurple,line width=3pt] (1559.4,596) -- (1559.4,776);
\node[cladetextB,text=napurple] (naC) at (1572,688) {North American};
\node[cladetextB,text=napurple] (naC2) at (1572,706) {lineage};
% scale
\draw[treegray,line width=0.6pt] (1082,801) -- (1082,807) (1082,804) -- (1123,804) (1123,801) -- (1123,807);
\node[bsC] (scC) at (1103,820) {0.020};
\end{tikzpicture}
\end{document}
